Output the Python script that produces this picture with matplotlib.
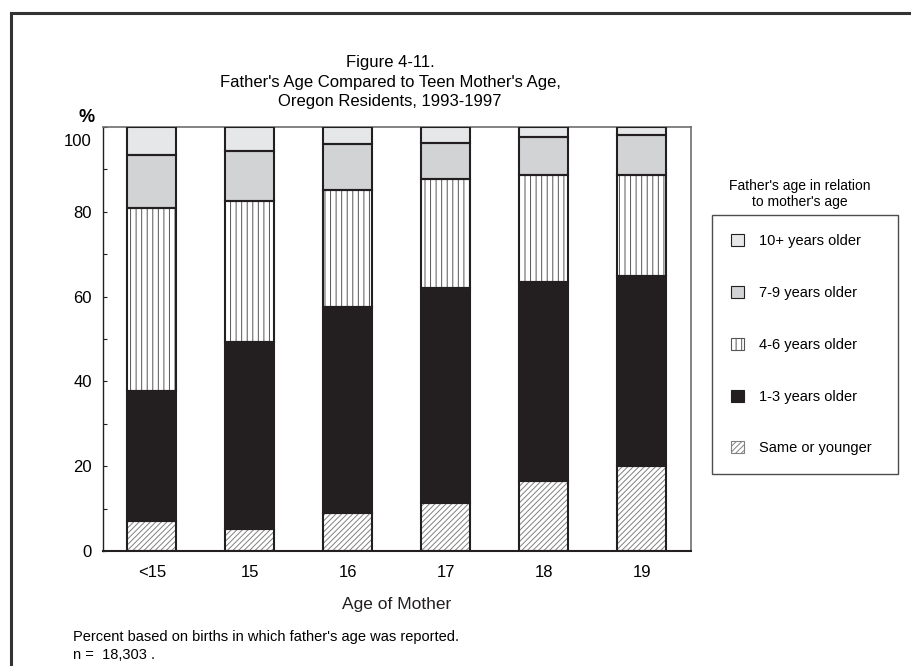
import matplotlib
matplotlib.use("Agg")
import matplotlib.pyplot as plt
from matplotlib.lines import Line2D
from matplotlib.patches import Patch
import matplotlib.transforms as mtransforms
import numpy as np

plt.rcParams['font.family'] = ['Liberation Sans', 'DejaVu Sans']

ages = ["<15", "15", "16", "17", "18", "19"]
series_names = ["Same or younger", "1-3 years older", "4-6 years older",
                "7-9 years older", "10+ years older"]
same_or_younger = [7.1, 5.2, 8.9, 11.4, 16.6, 20.0]
older_1_3 = [30.6, 44.0, 48.6, 50.6, 46.8, 44.9]
older_4_6 = [43.2, 33.4, 27.7, 25.7, 25.3, 23.8]
older_7_9 = [12.4, 11.7, 10.7, 8.5, 8.9, 9.5]
older_10 = [6.7, 5.7, 4.1, 3.8, 2.4, 1.8]

series = [same_or_younger, older_1_3, older_4_6, older_7_9, older_10]
dark = "#231f20"
fills = ["white", dark, "white", "#d1d3d4", "#e6e7e8"]
hatches = ["//////", None, "|||", None, None]
hatch_cols = ["#808080", dark, "#555555", dark, dark]

fig = plt.figure(figsize=(9.12, 6.66), dpi=100)
ax = fig.add_axes([103/912, 1-551/666, 588/912, 424/666])

x = np.arange(len(ages))
w = 0.5
bottom = np.zeros(len(ages))
handles = []
plt.rcParams['hatch.linewidth'] = 0.7
for vals, fc, h, hc, name in zip(series, fills, hatches, hatch_cols, series_names):
    vals = np.array(vals)
    if h:
        ax.bar(x, vals, w, bottom=bottom, color=fc, edgecolor=hc, hatch=h, linewidth=0, zorder=2)
    else:
        ax.bar(x, vals, w, bottom=bottom, color=fc, linewidth=0, zorder=2)
    ax.bar(x, vals, w, bottom=bottom, fill=False, edgecolor=dark, linewidth=1.5, zorder=3)
    handles.append(Patch(facecolor=fc, edgecolor=hc if h else dark, hatch=h, linewidth=0.8, label=name))
    bottom += vals

ax.set_xlim(-0.5, 5.5)
ax.set_ylim(0, 100)
ax.set_xticks(x)
ax.set_xticklabels(ages, fontsize=12)
ax.set_yticks(np.arange(0, 101, 20))
ax.set_yticks(np.arange(0, 101, 10), minor=True)
ax.tick_params(axis='y', labelsize=12, direction='in', length=3, width=0.8, color=dark, pad=8)
ax.tick_params(axis='y', which='minor', direction='in', length=3, width=0.8, color=dark)
ax.tick_params(axis='x', length=0, pad=10)
for s in ['top', 'right']:
    ax.spines[s].set_color('#6d6e70')
    ax.spines[s].set_linewidth(1.2)
ax.spines['left'].set_color(dark)
ax.spines['left'].set_linewidth(1.0)
ax.spines['bottom'].set_color(dark)
ax.spines['bottom'].set_linewidth(1.5)
ax.spines['bottom'].set_linestyle((0, (2, 1)))
ax.set_xlabel("Age of Mother", fontsize=12.5, labelpad=12, color='#231f20')

# shift the top "100" label down as in the reference
fig.canvas.draw()
lbl_top = ax.get_yticklabels()[-1]
lbl_top.set_transform(lbl_top.get_transform() +
                      mtransforms.ScaledTranslation(0, -13/100, fig.dpi_scale_trans))

fig.text(87/912, 1-117/666, "%", fontsize=13, fontweight='bold', ha='center', va='center')

fig.text(390/912, 1-82/666,
         "Figure 4-11.\nFather's Age Compared to Teen Mother's Age,\nOregon Residents, 1993-1997",
         ha='center', va='center', fontsize=12, linespacing=1.38)

fig.text(800/912, 1-194/666, "Father's age in relation\nto mother's age",
         ha='center', va='center', fontsize=10)

leg = fig.legend(handles[::-1], series_names[::-1],
                 loc='upper left', bbox_to_anchor=(712/912, 1-476/666, 186/912, 261/666),
                 mode='expand', fontsize=10.5, frameon=True, fancybox=False,
                 edgecolor=dark, labelspacing=2.59, handlelength=0.9, handleheight=0.9,
                 handletextpad=1.0, borderpad=1.3, borderaxespad=0)
leg.get_frame().set_linewidth(1.0)

fig.text(73/912, 1-637/666, "Percent based on births in which father's age was reported.",
         fontsize=10.5, va='center')
fig.text(73/912, 1-655/666, "n =  18,303 .", fontsize=10.5, va='center')

fig.add_artist(Line2D([11/912, 11/912], [0, 1-13/666], transform=fig.transFigure,
                      color='#333333', linewidth=2.2))
fig.add_artist(Line2D([11/912, 1], [1-13/666, 1-13/666], transform=fig.transFigure,
                      color='#333333', linewidth=2.2))

fig.savefig("out.png", dpi=100)
